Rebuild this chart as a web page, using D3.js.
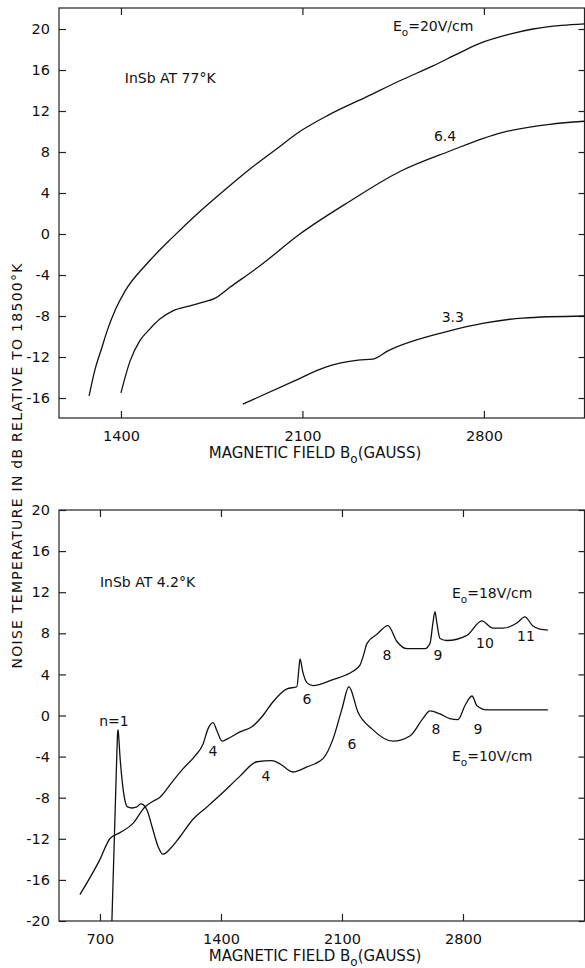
<!DOCTYPE html>
<html>
<head>
<meta charset="utf-8">
<script src="https://cdn.jsdelivr.net/npm/d3@7"></script>
<style>
  body { margin: 0; background: #fff; }
  svg { display: block; }
  text { font-family: "DejaVu Sans", "Liberation Sans", sans-serif; fill: #111; }
</style>
</head>
<body>
<div id="chart"></div>
<script>
//////////////////////////////////////////////////////////////////////////////
// Data: [field in gauss, noise temperature in dB]

// InSb at 77 K
var top20 = [[1277,-15.8],[1300,-13.2],[1325,-11.2],[1346,-9.5],[1380,-7.3],[1415,-5.6],
    [1500,-2.9],[1600,-0.3],[1700,2.1],[1800,4.3],[1900,6.4],[2000,8.3],[2090,10.0],
    [2200,11.6],[2349,13.4],[2480,15.0],[2603,16.4],[2700,17.6],[2784,18.6],[2900,19.5],
    [2989,20.0],[3100,20.35],[3188,20.5]];
var top64 = [[1400,-15.5],[1435,-12.4],[1473,-10.4],[1510,-9.3],[1550,-8.3],[1600,-7.5],
    [1666,-7.0],[1724,-6.6],[1760,-6.3],[1820,-5.2],[1936,-3.1],[2090,0.0],[2283,3.2],
    [2476,6.1],[2669,8.1],[2862,9.85],[3054,10.7],[3188,11.0]];
var top33 = [[1870,-16.6],[2071,-14.3],[2187,-13.0],[2315,-12.3],[2372,-12.2],
    [2430,-11.4],[2660,-9.5],[2800,-8.7],[2950,-8.2],[3188,-8.0]];

// InSb at 4.2 K
var bot18 = [[584,-17.44],[700,-14.0],[758,-11.97],[816,-11.4],[891,-10.5],[960,-8.9],
    [1007,-8.35],[1047,-7.95],[1116,-6.5],[1180,-5.2],[1249,-3.95],[1296,-2.8],
    [1325,-1.3],[1354,-0.7],[1377,-1.5],[1406,-2.5],[1435,-2.3],[1510,-1.6],[1579,-1.1],
    [1643,0.0],[1701,1.34],[1782,2.6],[1839,2.8],[1851,4.6],[1857,5.5],[1874,4.2],
    [1897,3.2],[1932,2.9],[2048,3.5],[2163,4.3],[2204,4.9],[2227,6.0],[2244,7.0],
    [2302,7.9],[2366,8.75],[2418,7.2],[2476,6.5],[2580,6.5],[2609,7.0],[2626,9.0],
    [2638,10.1],[2649,9.0],[2667,7.5],[2707,7.3],[2823,7.8],[2909,9.2],[2973,8.5],
    [3031,8.5],[3112,9.0],[3158,9.6],[3205,8.7],[3245,8.4],[3291,8.3]];
var bot10 = [[769,-20.0],[798,-3.5],[802,-1.7],[805,-1.4],[809,-2.2],[815,-3.8],
    [830,-6.6],[845,-8.3],[860,-8.9],[885,-9.0],[914,-8.9],[935,-8.6],[952,-8.7],
    [972,-9.2],[1001,-10.8],[1035,-12.7],[1064,-13.5],[1105,-13.0],[1163,-11.8],
    [1238,-10.1],[1319,-8.9],[1411,-7.5],[1510,-5.9],[1608,-4.5],[1695,-4.4],[1741,-4.7],
    [1816,-5.5],[1897,-5.0],[1990,-4.2],[2048,-2.3],[2100,0.65],[2140,2.8],[2192,0.35],
    [2273,-1.3],[2395,-2.5],[2493,-2.0],[2568,-0.3],[2609,0.45],[2667,0.15],[2724,-0.3],
    [2771,-0.4],[2811,0.95],[2852,1.9],[2881,0.95],[2938,0.55],[3112,0.55],[3291,0.55]];

var topXTicks = [1400, 2100, 2800];
var botXTicks = [700, 1400, 2100, 2800];
var topYTicks = [20, 16, 12, 8, 4, 0, -4, -8, -12, -16];
var botYTicks = [20, 16, 12, 8, 4, 0, -4, -8, -12, -16, -20];

// annotations, in data units
var topNotes = [
    {t: "InSb AT 77°K", B: 1415, v: 15.2, a: "start"},
    {t: "6.4", B: 2650, v: 9.55, a: "middle"},
    {t: "3.3", B: 2680, v: -8.1, a: "middle"}
];
var botNotes = [
    {t: "InSb AT 4.2°K", B: 700, v: 13.0, a: "start"},
    {t: "n=1", B: 781, v: -0.5, a: "middle"},
    {t: "4", B: 1354, v: -3.45, a: "middle"},
    {t: "4", B: 1660, v: -5.9, a: "middle"},
    {t: "6", B: 1897, v: 1.6, a: "middle"},
    {t: "6", B: 2158, v: -2.75, a: "middle"},
    {t: "8", B: 2360, v: 5.85, a: "middle"},
    {t: "9", B: 2655, v: 5.85, a: "middle"},
    {t: "10", B: 2927, v: 7.0, a: "middle"},
    {t: "11", B: 3164, v: 7.7, a: "middle"},
    {t: "8", B: 2643, v: -1.3, a: "middle"},
    {t: "9", B: 2886, v: -1.3, a: "middle"}
];
var fieldNotes = [
    {panel: "top", B: 2449, v: 20.3, val: "20V/cm"},
    {panel: "bot", B: 2736, v: 11.9, val: "18V/cm"},
    {panel: "bot", B: 2736, v: -3.95, val: "10V/cm"}
];

//////////////////////////////////////////////////////////////////////////////
// Scales

var W = 585, H = 968;

var xTop = d3.scaleLinear().domain([1161, 3188]).range([59, 584.5]);
var yTop = d3.scaleLinear().domain([-17.95, 22.05]).range([418, 8]);
var xBot = d3.scaleLinear().domain([463, 3503]).range([59, 584.5]);
var yBot = d3.scaleLinear().domain([-20, 20]).range([921, 510]);

var svg = d3.select("#chart").append("svg")
    .attr("width", W)
    .attr("height", H);

function fmt(d) { return String(d); }

function drawPanel(x, y, xTicks, yTicks)
{
    var x0 = x.range()[0], x1 = x.range()[1];
    var y0 = y.range()[1], y1 = y.range()[0];
    var g = svg.append("g");

    g.append("rect")
        .attr("x", x0).attr("y", y0)
        .attr("width", x1 - x0).attr("height", y1 - y0)
        .attr("fill", "none").attr("stroke", "#222").attr("stroke-width", 1.2);

    g.append("g").attr("transform", "translate(" + x0 + ",0)")
        .call(d3.axisLeft(y).tickValues(yTicks).tickSize(-7).tickPadding(9).tickFormat(fmt));
    g.append("g").attr("transform", "translate(" + x1 + ",0)")
        .call(d3.axisRight(y).tickValues(yTicks).tickSize(-6).tickFormat(""));
    g.append("g").attr("transform", "translate(0," + y1 + ")")
        .call(d3.axisBottom(x).tickValues(xTicks).tickSize(-7).tickPadding(13).tickFormat(fmt));
    g.append("g").attr("transform", "translate(0," + y0 + ")")
        .call(d3.axisTop(x).tickValues(xTicks).tickSize(-7).tickFormat(""));

    g.selectAll(".domain").remove();
    g.selectAll(".tick line").attr("stroke", "#222").attr("stroke-width", 1.2);
    g.selectAll(".tick text").attr("font-size", 14.5).attr("fill", "#111")
        .style("font-family", "'DejaVu Sans', sans-serif");

    // x axis title: MAGNETIC FIELD B0 (GAUSS)
    var t = g.append("text")
        .attr("x", 315)
        .attr("y", y1 + 40)
        .attr("text-anchor", "middle")
        .attr("font-size", 15);
    t.append("tspan").text("MAGNETIC FIELD B");
    t.append("tspan").attr("font-size", 12).attr("dy", 5).text("o");
    t.append("tspan").attr("dy", -5).text("(GAUSS)");
}

drawPanel(xTop, yTop, topXTicks, topYTicks);
drawPanel(xBot, yBot, botXTicks, botYTicks);

// curves
function drawCurve(data, x, y)
{
    var line = d3.line()
        .x(function(d) { return x(d[0]); })
        .y(function(d) { return y(d[1]); })
        .curve(d3.curveMonotoneX);
    svg.append("path")
        .datum(data)
        .attr("d", line)
        .attr("fill", "none")
        .attr("stroke", "#111")
        .attr("stroke-width", 1.3);
}

drawCurve(top20, xTop, yTop);
drawCurve(top64, xTop, yTop);
drawCurve(top33, xTop, yTop);
drawCurve(bot18, xBot, yBot);
drawCurve(bot10, xBot, yBot);

// annotations
function drawNotes(notes, x, y)
{
    svg.append("g")
        .selectAll("text")
        .data(notes)
        .enter()
        .append("text")
        .attr("x", function(d) { return x(d.B); })
        .attr("y", function(d) { return y(d.v); })
        .attr("dy", "0.35em")
        .attr("text-anchor", function(d) { return d.a; })
        .attr("font-size", 14)
        .text(function(d) { return d.t; });
}

drawNotes(topNotes, xTop, yTop);
drawNotes(botNotes, xBot, yBot);

// E0 = ... V/cm labels
fieldNotes.forEach(function(d) {
    var x = d.panel == "top" ? xTop : xBot;
    var y = d.panel == "top" ? yTop : yBot;
    var t = svg.append("text")
        .attr("x", x(d.B))
        .attr("y", y(d.v))
        .attr("dy", "0.35em")
        .attr("font-size", 14);
    t.append("tspan").text("E");
    t.append("tspan").attr("font-size", 10.5).attr("dy", 5).text("o");
    t.append("tspan").attr("dy", -5).text("=" + d.val);
});

// shared y axis title
svg.append("text")
    .attr("transform", "translate(22,466) rotate(-90)")
    .attr("text-anchor", "middle")
    .attr("font-size", 14)
    .attr("textLength", 405)
    .attr("lengthAdjust", "spacing")
    .text("NOISE TEMPERATURE IN dB RELATIVE TO 18500°K");
</script>
</body>
</html>
